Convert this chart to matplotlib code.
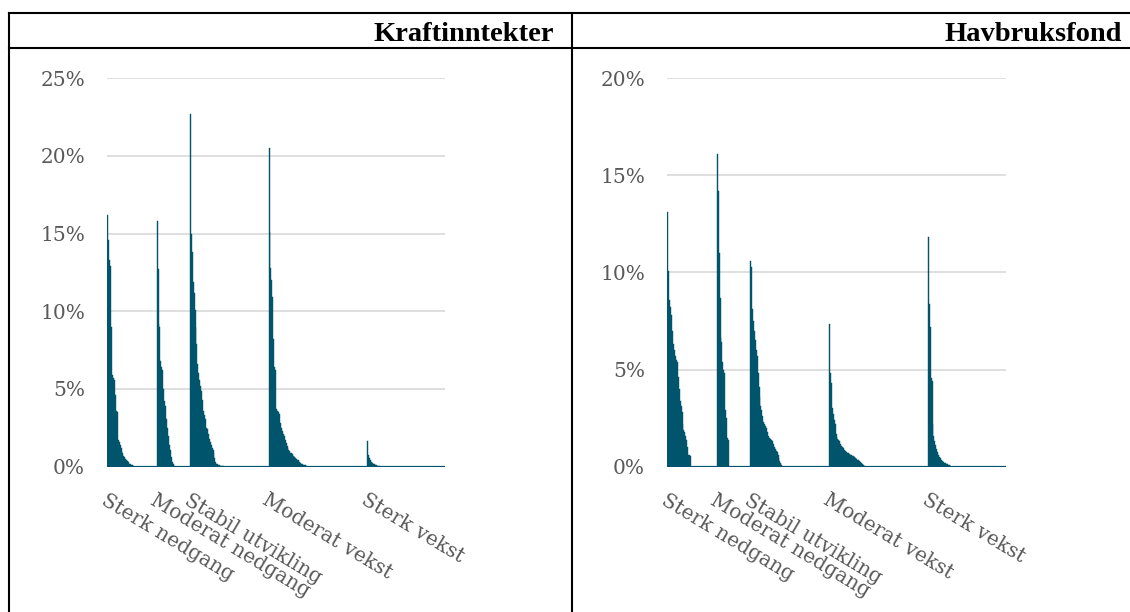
import numpy as np
import matplotlib
matplotlib.use("Agg")
import matplotlib.pyplot as plt
from matplotlib.lines import Line2D

# categories and number of municipalities in each
groups = ["Sterk nedgang", "Moderat nedgang", "Stabil utvikling", "Moderat vekst", "Sterk vekst"]
n_per_group = [52, 35, 83, 104, 82]

# Kraftinntekter, % per municipality, sorted within group (rest of each group is 0)
kraft_sterk_nedgang = [16.2, 14.6, 13.3, 12.9, 9.0, 5.9, 5.7, 5.6, 4.6, 3.6, 3.5, 1.7, 1.6, 1.4,
                       1.2, 1.0, 0.9, 0.7, 0.6, 0.5, 0.45, 0.35, 0.3, 0.2, 0.15, 0.1, 0.08, 0.05]
kraft_moderat_nedgang = [15.8, 12.7, 9.2, 9.0, 6.8, 6.4, 6.2, 5.0, 4.2, 3.9, 3.1, 2.5, 2.0, 1.4,
                         1.1, 0.6, 0.3, 0.15, 0.05]
kraft_stabil = [22.7, 15.0, 13.8, 11.9, 11.2, 10.1, 9.0, 7.9, 6.6, 6.0, 5.6, 5.2, 4.9, 4.3, 3.6,
                3.3, 3.1, 2.5, 2.4, 2.1, 1.8, 1.6, 1.4, 1.2, 1.1, 0.85, 0.55, 0.3, 0.2, 0.15,
                0.1, 0.08, 0.05, 0.04, 0.03, 0.03]
kraft_moderat_vekst = [20.5, 15.1, 12.8, 12.0, 10.9, 8.2, 6.4, 6.2, 3.7, 3.6, 3.5, 3.4, 2.8, 2.5,
                       2.3, 2.1, 2.0, 1.7, 1.5, 1.3, 1.2, 1.1, 1.0, 0.9, 0.85, 0.8, 0.7, 0.6,
                       0.55, 0.5, 0.45, 0.4, 0.3, 0.25, 0.2, 0.15, 0.12, 0.1, 0.08, 0.05, 0.03]
kraft_sterk_vekst = [1.65, 0.75, 0.55, 0.4, 0.3, 0.25, 0.2, 0.15, 0.1, 0.08, 0.06, 0.05, 0.03]

# Havbruksfond
havbruk_sterk_nedgang = [13.1, 10.1, 8.6, 8.2, 7.8, 7.0, 6.3, 6.0, 5.7, 5.5, 5.4, 4.6, 4.0, 3.4,
                         3.1, 2.8, 2.2, 1.9, 1.8, 1.6, 1.4, 1.0, 0.6, 0.6, 0.55]
havbruk_moderat_nedgang = [16.1, 14.2, 11.0, 8.7, 6.6, 6.4, 5.4, 5.0, 4.8, 2.9, 2.5, 1.5, 1.4]
havbruk_stabil = [10.6, 10.3, 8.1, 7.5, 7.0, 6.5, 6.0, 5.7, 4.8, 4.1, 3.6, 3.1, 2.9, 2.6, 2.3,
                  2.2, 2.1, 2.0, 1.8, 1.6, 1.5, 1.45, 1.4, 1.3, 1.15, 1.0, 0.9, 0.8, 0.75, 0.6,
                  0.45, 0.3, 0.2, 0.08]
havbruk_moderat_vekst = [7.35, 4.8, 4.3, 3.0, 2.7, 2.4, 2.2, 1.7, 1.55, 1.45, 1.35, 1.3, 1.15,
                         1.05, 1.0, 0.95, 0.85, 0.8, 0.75, 0.7, 0.68, 0.65, 0.62, 0.6, 0.57,
                         0.53, 0.5, 0.47, 0.43, 0.4, 0.37, 0.32, 0.28, 0.24, 0.2, 0.15, 0.1, 0.06]
havbruk_sterk_vekst = [11.8, 8.4, 7.2, 4.55, 4.4, 2.2, 1.6, 1.3, 1.1, 0.9, 0.75, 0.6, 0.5, 0.43,
                       0.36, 0.3, 0.25, 0.2, 0.17, 0.14, 0.12, 0.1, 0.07, 0.04]

kraft = [kraft_sterk_nedgang, kraft_moderat_nedgang, kraft_stabil, kraft_moderat_vekst, kraft_sterk_vekst]
havbruk = [havbruk_sterk_nedgang, havbruk_moderat_nedgang, havbruk_stabil, havbruk_moderat_vekst, havbruk_sterk_vekst]


def full_series(parts):
    out = []
    for vals, n in zip(parts, n_per_group):
        out += list(vals) + [0.0] * (n - len(vals))
    return np.array(out)


COLOR = "#00546B"
W, H = 1130, 612
fig = plt.figure(figsize=(W / 100, H / 100), dpi=100)

tick_pos = np.cumsum([0] + n_per_group[:-1])


def draw_panel(rect, series, ymax, yticks):
    ax = fig.add_axes(rect)
    x = np.arange(len(series))
    ax.bar(x, series, width=1.0, color=COLOR, edgecolor=COLOR, linewidth=0.3)
    ax.axhline(0, color=COLOR, lw=1.6, zorder=3)
    ax.set_xlim(-0.5, len(series) - 0.5)
    ax.set_ylim(0, ymax)
    ax.set_yticks(yticks)
    ax.set_yticklabels([f"{t}%" for t in yticks])
    ax.yaxis.grid(True, color="#D9D9D9", lw=1.2)
    ax.set_axisbelow(True)
    for s in ax.spines.values():
        s.set_visible(False)
    ax.set_xticks(tick_pos)
    ax.set_xticklabels(groups, rotation=-31, ha="left", va="top", rotation_mode="anchor")
    ax.tick_params(axis="both", length=0, colors="#595959", labelsize=14.5)
    ax.tick_params(axis="y", pad=16)
    ax.tick_params(axis="x", pad=17)
    for lab in ax.get_xticklabels() + ax.get_yticklabels():
        lab.set_fontfamily("DejaVu Serif")
    return ax


bottom = 1 - 466.7 / H
top = 1 - 78.2 / H
draw_panel([107.3 / W, bottom, (445 - 107.3) / W, top - bottom], full_series(kraft), 25, [0, 5, 10, 15, 20, 25])
draw_panel([667.3 / W, bottom, (1005.7 - 667.3) / W, top - bottom], full_series(havbruk), 20, [0, 5, 10, 15, 20])

# table-like frame around the two panels
def fline(x0, y0, x1, y1):
    fig.add_artist(Line2D([x0 / W, x1 / W], [1 - y0 / H, 1 - y1 / H], color="black", lw=1.5))

fline(9, 13.3, W, 13.3)
fline(9, 47.7, W, 47.7)
fline(9, 13.3, 9, H)
fline(571.7, 13.3, 571.7, H)

fig.text(554 / W, 1 - 41 / H, "Kraftinntekter", ha="right", va="baseline",
         fontsize=20.5, fontweight="bold", family="Liberation Serif")
fig.text(1122 / W, 1 - 41 / H, "Havbruksfond", ha="right", va="baseline",
         fontsize=20.5, fontweight="bold", family="Liberation Serif")

fig.savefig("out.png", dpi=100)
